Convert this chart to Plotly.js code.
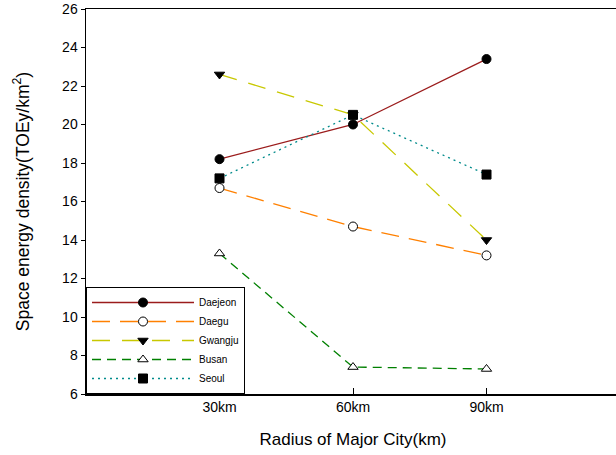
<!DOCTYPE html>
<html><head><meta charset="utf-8">
<script src="https://cdn.plot.ly/plotly-3.0.1.min.js"></script>
<style>html,body{margin:0;padding:0;overflow:hidden;background:#fff}</style>
</head><body><div id="chart"></div>
<script>
var categories = ["30km", "60km", "90km"];
var xPos = [1, 2, 3];
var daejeon = [18.2, 20.0, 23.4];
var daegu = [16.7, 14.7, 13.2];
var gwangju = [22.6, 20.5, 14.0];
var busan = [13.3, 7.4, 7.3];
var seoul = [17.2, 20.5, 17.4];
var yTicks = [6, 8, 10, 12, 14, 16, 18, 20, 22, 24, 26];

function tr(name, y, color, dash, symbol, fill) {
  return {x: xPos, y: y, name: name, type: 'scatter', mode: 'lines+markers',
    line: {color: color, width: 1.3, dash: dash},
    marker: {symbol: symbol, size: 9, color: fill, line: {color: '#000', width: 1}}};
}
var data = [
  tr('Daejeon', daejeon, '#9B1C1C', 'solid', 'circle', '#000'),
  tr('Daegu', daegu, '#FF8000', '18px,10px', 'circle', '#fff'),
  tr('Gwangju', gwangju, '#C8C800', '18px,12px', 'triangle-down', '#000'),
  tr('Busan', busan, '#008000', '9px,6px', 'triangle-up', '#fff'),
  tr('Seoul', seoul, '#008B8B', '2px,4px', 'square', '#000')
];
var layout = {
  width: 620, height: 455,
  margin: {l: 86, r: 0, t: 9, b: 61},
  paper_bgcolor: '#fff', plot_bgcolor: '#fff',
  font: {family: 'Liberation Sans, Arial, sans-serif', color: '#000'},
  xaxis: {range: [0, 4], tickvals: xPos, ticktext: categories, showgrid: false, zeroline: false,
    showline: true, linecolor: '#000', linewidth: 1.5, mirror: true,
    ticks: 'inside', ticklen: 6, tickcolor: '#000', tickfont: {size: 14},
    title: {text: 'Radius of Major City(km)', font: {size: 17}, standoff: 19}},
  yaxis: {range: [6, 26], tickvals: yTicks, showgrid: false, zeroline: false,
    showline: true, linecolor: '#000', linewidth: 1.5, mirror: true,
    ticks: 'outside', ticklen: 4, tickcolor: '#000', tickfont: {size: 14},
    title: {text: 'Space energy density(TOEy/km<sup>2</sup>)', font: {size: 17.5}, standoff: 28}},
  showlegend: true,
  legend: {x: 0, y: 0, xanchor: 'left', yanchor: 'bottom', bgcolor: '#fff',
    bordercolor: '#000', borderwidth: 1, font: {size: 10}, itemwidth: 102}
};
Plotly.newPlot('chart', data, layout, {displayModeBar: false, staticPlot: true});
</script></body></html>
